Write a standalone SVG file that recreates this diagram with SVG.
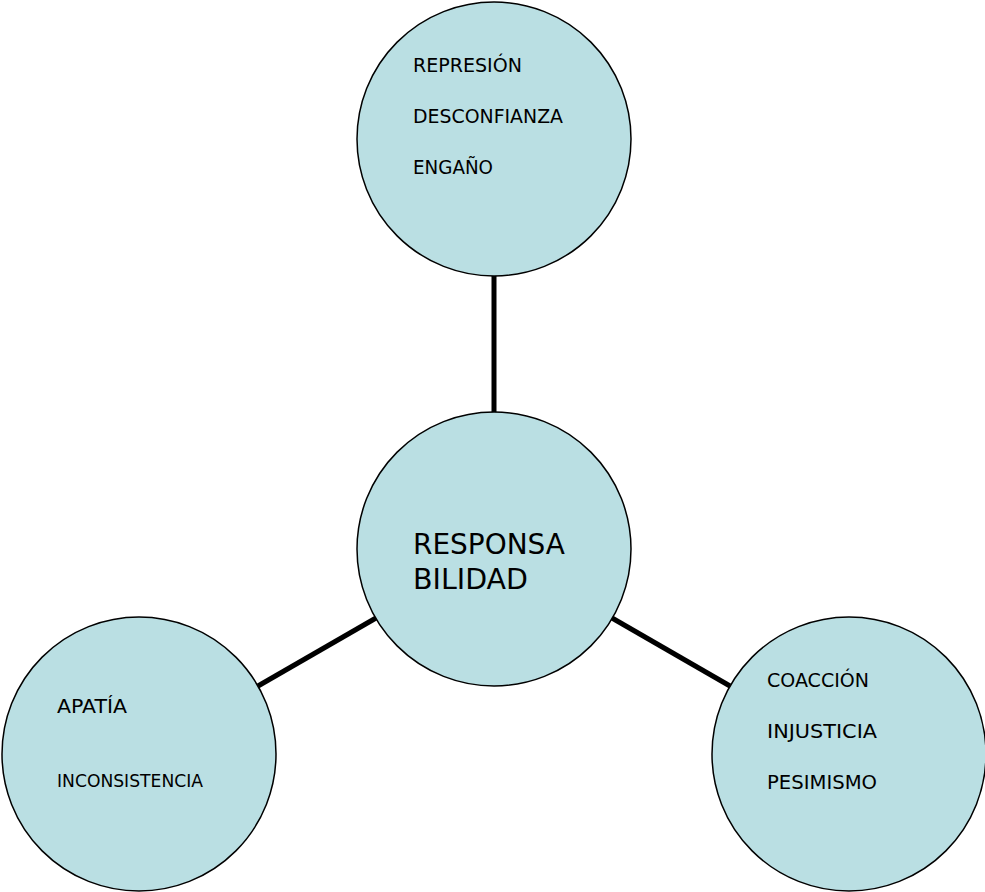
<svg xmlns="http://www.w3.org/2000/svg" width="985" height="892" viewBox="0 0 985 892">
<style>
.n{fill:#BADFE3;stroke:#000;stroke-width:1.5}
.c{stroke:#000;stroke-width:5;fill:none}
text{font-family:"DejaVu Sans",sans-serif;fill:#000}
.s{font-size:19.5px}
.m{font-size:17.5px}
.b{font-size:28px}
</style>
<rect width="985" height="892" fill="#fff"/>
<g id="connectors">
<line class="c" x1="494" y1="276" x2="494" y2="413"/>
<line class="c" x1="376" y1="618" x2="258" y2="686"/>
<line class="c" x1="612" y1="618" x2="730" y2="686"/>
</g>
<g id="node-top">
<circle class="n" cx="494" cy="139" r="137"/>
<text class="s" x="413" y="71.5" textLength="109" lengthAdjust="spacingAndGlyphs">REPRESIÓN</text>
<text class="s" x="413" y="122.5" textLength="150" lengthAdjust="spacingAndGlyphs">DESCONFIANZA</text>
<text class="s" x="413" y="173.5" textLength="80" lengthAdjust="spacingAndGlyphs">ENGAÑO</text>
</g>
<g id="node-center">
<circle class="n" cx="494" cy="549" r="137"/>
<text class="b" x="413" y="553.5" textLength="152" lengthAdjust="spacingAndGlyphs">RESPONSA</text>
<text class="b" x="413" y="588.5" textLength="115" lengthAdjust="spacingAndGlyphs">BILIDAD</text>
</g>
<g id="node-left">
<circle class="n" cx="139" cy="754" r="137"/>
<text class="s" x="57" y="712.5" textLength="70" lengthAdjust="spacingAndGlyphs">APATÍA</text>
<text class="m" x="57" y="786.5" textLength="146" lengthAdjust="spacingAndGlyphs">INCONSISTENCIA</text>
</g>
<g id="node-right">
<circle class="n" cx="849" cy="754" r="137"/>
<text class="s" x="767" y="687" textLength="102" lengthAdjust="spacingAndGlyphs">COACCIÓN</text>
<text class="s" x="767" y="738" textLength="110" lengthAdjust="spacingAndGlyphs">INJUSTICIA</text>
<text class="s" x="767" y="789" textLength="110" lengthAdjust="spacingAndGlyphs">PESIMISMO</text>
</g>
</svg>
